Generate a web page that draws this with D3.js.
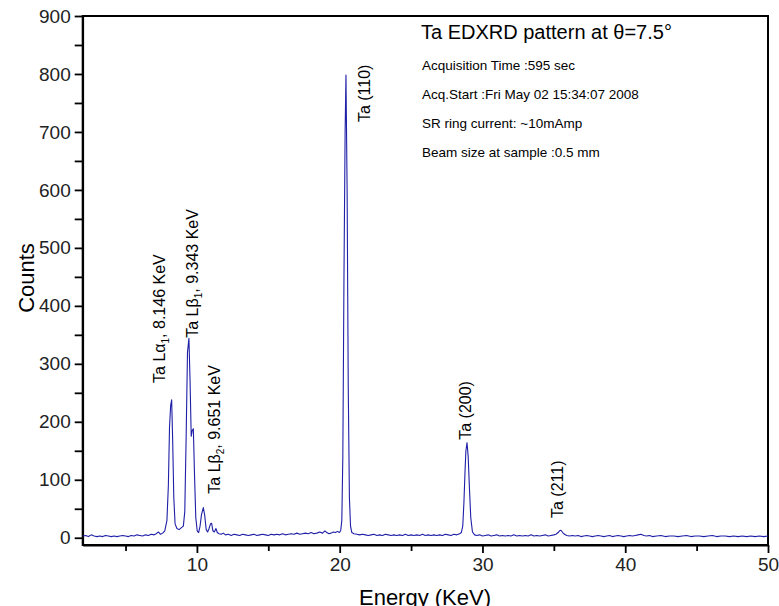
<!DOCTYPE html>
<html>
<head>
<meta charset="utf-8">
<script src="https://cdn.jsdelivr.net/npm/d3@7"></script>
<style>
  body { margin: 0; background: #fff; }
  svg { display: block; font-family: "Liberation Sans", Arial, sans-serif; }
  .axis path, .axis line { stroke: #000; stroke-width: 1.8px; }
  .axis text { font-size: 19px; fill: #222; }
</style>
</head>
<body>
<svg id="chart" width="779" height="606"></svg>
<script>
// spectrum (energy in keV, counts)
var energy = [
  2.0, 2.2, 2.4, 2.6, 2.8, 3.0, 3.2, 3.4, 3.6, 3.8, 4.0, 4.2, 4.4, 4.6, 4.8,
  5.0, 5.2, 5.4, 5.6, 5.8, 6.0, 6.2, 6.4, 6.6, 6.8, 7.0, 7.15, 7.3, 7.45, 7.6,
  7.75, 7.9, 8.0, 8.08, 8.16, 8.23, 8.3, 8.38, 8.47, 8.6, 8.75, 8.9, 9.05, 9.15,
  9.25, 9.34, 9.44, 9.52, 9.6, 9.67, 9.75, 9.83, 9.92, 10.02, 10.12, 10.22, 10.32,
  10.45, 10.55, 10.65, 10.75, 10.85, 10.95, 11.03, 11.12, 11.22, 11.33, 11.43,
  11.55, 11.7, 11.85, 12.0, 12.2, 12.4, 12.6, 12.8, 13.0, 13.2, 13.4, 13.6, 13.8,
  14.0, 14.2, 14.4, 14.6, 14.8, 15.0, 15.2, 15.4, 15.6, 15.8, 16.0, 16.2, 16.4,
  16.6, 16.8, 17.0, 17.2, 17.4, 17.6, 17.8, 18.0, 18.2, 18.4, 18.6, 18.8, 18.97,
  19.1, 19.25, 19.4, 19.55, 19.7, 19.85, 19.98, 20.07, 20.15, 20.22, 20.3, 20.38,
  20.44, 20.52, 20.6, 20.68, 20.76, 20.85, 21.0, 21.2, 21.4, 21.6, 21.8, 22.0,
  22.2, 22.4, 22.6, 22.8, 23.0, 23.2, 23.4, 23.6, 23.8, 24.0, 24.2, 24.4, 24.6,
  24.8, 25.0, 25.2, 25.4, 25.6, 25.8, 26.0, 26.2, 26.4, 26.6, 26.8, 27.0, 27.2,
  27.4, 27.6, 27.8, 28.0, 28.2, 28.4, 28.52, 28.62, 28.7, 28.78, 28.84, 28.92,
  29.0, 29.08, 29.18, 29.3, 29.45, 29.6, 29.8, 30.0, 30.2, 30.4, 30.6, 30.8,
  31.0, 31.2, 31.4, 31.6, 31.8, 32.0, 32.2, 32.4, 32.6, 32.8, 33.0, 33.2, 33.4,
  33.6, 33.8, 34.0, 34.2, 34.4, 34.6, 34.8, 35.0, 35.15, 35.3, 35.4, 35.5, 35.62,
  35.75, 35.9, 36.1, 36.3, 36.5, 36.7, 36.9, 37.1, 37.3, 37.5, 37.7, 37.9, 38.1,
  38.3, 38.5, 38.7, 38.9, 39.1, 39.3, 39.5, 39.7, 39.9, 40.1, 40.3, 40.5, 40.7,
  40.9, 41.1, 41.3, 41.5, 41.7, 41.9, 42.2, 42.5, 42.8, 43.1, 43.4, 43.7, 44.0,
  44.3, 44.6, 44.9, 45.2, 45.5, 45.8, 46.1, 46.4, 46.7, 47.0, 47.3, 47.6, 47.9,
  48.2, 48.5, 48.8, 49.1, 49.4, 49.7, 50.0
];
var counts = [
  3, 4, 2, 5, 3, 2, 3, 2, 4, 3, 2, 3, 2, 3, 4,
  3, 2, 4, 3, 5, 4, 3, 5, 4, 6, 5, 7, 10, 6, 8,
  12, 30, 90, 190, 228, 238, 170, 70, 24, 16, 14, 17, 20, 45,
  180, 320, 344, 270, 175, 185, 188, 110, 35, 12, 9, 20, 40,
  52, 38, 14, 10, 16, 24, 25, 12, 10, 16, 9,
  7, 6, 8, 5, 6, 4, 6, 5, 4, 6, 5, 4, 5,
  6, 4, 5, 6, 5, 4, 6, 5, 6, 5, 7, 5, 6,
  7, 6, 8, 6, 7, 8, 7, 9, 7, 8, 10, 8, 12,
  9, 7, 8, 10, 9, 11, 9, 12, 30, 140, 450, 700,
  798, 600, 260, 70, 20, 9, 7, 6, 5, 6, 5, 4,
  5, 6, 4, 5, 4, 6, 5, 4, 5, 4, 5, 4, 6,
  4, 5, 4, 5, 4, 6, 4, 5, 4, 5, 4, 5, 4,
  6, 5, 4, 6, 5, 7, 9, 20, 60, 115, 150, 164,
  140, 90, 35, 10, 5, 4, 5, 3, 4, 5, 3, 4,
  5, 3, 4, 3, 4, 3, 5, 3, 4, 3, 4, 3, 5,
  3, 4, 3, 4, 5, 3, 4, 5, 6, 9, 12, 13, 9,
  6, 4, 3, 4, 3, 4, 2, 3, 4, 3, 2, 3, 4,
  3, 2, 3, 4, 2, 3, 4, 3, 2, 3, 4, 3, 4,
  5, 6, 4, 3, 4, 2, 3, 4, 2, 3, 3, 2, 3,
  4, 2, 3, 3, 2, 3, 4, 2, 3, 3, 2, 3, 2,
  3, 2, 3, 2, 3, 2, 3
];

var xTicks = [10, 20, 30, 40, 50];
var xMinorTicks = [5, 15, 25, 35, 45];
var yTicks = [0, 100, 200, 300, 400, 500, 600, 700, 800, 900];
var yMinorTicks = [50, 150, 250, 350, 450, 550, 650, 750, 850];

var titleText = "Ta EDXRD pattern at \u03b8=7.5\u00b0";
var infoLines = [
  "Acquisition Time :595 sec",
  "Acq.Start :Fri May 02 15:34:07 2008",
  "SR ring current: ~10mAmp",
  "Beam size at sample :0.5 mm"
];

// peak annotations: [main text, subscript, tail, energy anchor, count anchor]
var peakLabels = [
  ["Ta L\u03b1", "1", ", 8.146 KeV", 7.76, 267],
  ["Ta L\u03b2", "1", ", 9.343 KeV", 10.07, 345],
  ["Ta L\u03b2", "2", ", 9.651 KeV", 11.61, 76],
  ["Ta (110)", "", "", 22.15, 717],
  ["Ta (200)", "", "", 29.19, 169],
  ["Ta (211)", "", "", 35.63, 34]
];

var svg = d3.select("#chart");
var plotLeft = 82.7, plotRight = 768, plotTop = 16, plotBottom = 545;

var x = d3.scaleLinear().domain([2, 50]).range([plotLeft, plotRight]);
var y = d3.scaleLinear().domain([-12.5, 900]).range([plotBottom, plotTop]);

// minor ticks
svg.append("g").attr("class", "axis")
  .attr("transform", "translate(0," + plotBottom + ")")
  .call(d3.axisBottom(x).tickValues(xMinorTicks).tickSize(6).tickFormat(""))
  .select(".domain").remove();
svg.append("g").attr("class", "axis")
  .attr("transform", "translate(" + plotLeft + ",0)")
  .call(d3.axisLeft(y).tickValues(yMinorTicks).tickSize(8).tickFormat(""))
  .select(".domain").remove();

svg.append("g").attr("class", "axis")
  .attr("transform", "translate(0," + plotBottom + ")")
  .call(d3.axisBottom(x).tickValues(xTicks).tickSize(8).tickPadding(5).tickSizeOuter(0));
svg.append("g").attr("class", "axis")
  .attr("transform", "translate(" + plotLeft + ",0)")
  .call(d3.axisLeft(y).tickValues(yTicks).tickSize(8).tickPadding(4).tickSizeOuter(0));

svg.append("rect")
  .attr("x", plotLeft).attr("y", plotTop)
  .attr("width", plotRight - plotLeft).attr("height", plotBottom - plotTop)
  .attr("fill", "none").attr("stroke", "#000").attr("stroke-width", 2);

var line = d3.line()
  .x(function(d, i) { return x(energy[i]); })
  .y(function(d) { return y(d); });

svg.append("path")
  .datum(counts)
  .attr("d", line)
  .attr("fill", "none")
  .attr("stroke", "#1f1fa8")
  .attr("stroke-width", 1.1)
  .attr("stroke-linejoin", "round");

svg.append("text")
  .attr("transform", "translate(34,278) rotate(-90)")
  .attr("text-anchor", "middle")
  .style("font-size", "22px")
  .text("Counts");

svg.append("text")
  .attr("x", 425).attr("y", 605)
  .attr("text-anchor", "middle")
  .style("font-size", "22px")
  .text("Energy (KeV)");

svg.append("text")
  .attr("x", 421).attr("y", 39)
  .style("font-size", "20px")
  .text(titleText);

svg.selectAll(".info")
  .data(infoLines)
  .enter().append("text")
  .attr("class", "info")
  .attr("x", 422)
  .attr("y", function(d, i) { return 70 + i * 29; })
  .style("font-size", "13.5px")
  .text(function(d) { return d; });

var lab = svg.selectAll(".peak")
  .data(peakLabels)
  .enter().append("text")
  .attr("class", "peak")
  .attr("transform", function(d) {
    return "translate(" + x(d[3]) + "," + y(d[4]) + ") rotate(-90)";
  })
  .style("font-size", "16px");
lab.append("tspan").text(function(d) { return d[0]; });
lab.append("tspan")
  .attr("dy", 4)
  .style("font-size", "10px")
  .text(function(d) { return d[1]; });
lab.append("tspan")
  .attr("dy", function(d) { return d[1] ? -4 : 0; })
  .text(function(d) { return d[2]; });
</script>
</body>
</html>
